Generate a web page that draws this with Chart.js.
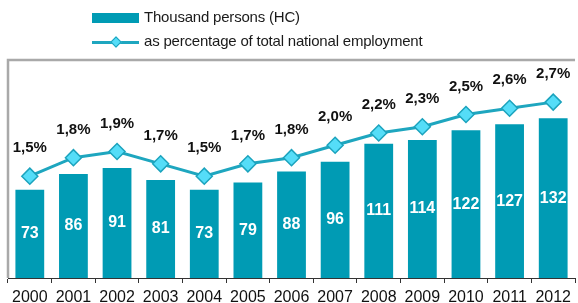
<!DOCTYPE html>
<html lang="en">
<head>
    <meta charset="UTF-8">
    <title>Employment chart</title>
    <script src="https://cdn.jsdelivr.net/npm/chart.js"></script>
    <style>
        body { margin: 0; font-family: "Liberation Sans", Arial, sans-serif; background: #fff; }
        #wrap { position: relative; width: 578px; height: 303px; }
        .legend { position: absolute; left: 92px; font-size: 15px; color: #1a1a1a; letter-spacing: -0.2px; }
        .legend div { position: relative; height: 24px; line-height: 24px; padding-left: 52px; white-space: nowrap; }
        .swatch { position: absolute; left: 0; top: 8px; width: 47px; height: 10px; background: #009bb4; }
        .lineSw { position: absolute; left: 0; top: 12px; width: 47px; height: 3px; background: #1ea6bf; }
        .diamond { position: absolute; left: 20px; top: 9px; width: 6px; height: 6px; background: #55ddf8;
                   border: 1px solid #1ba3bd; transform: rotate(45deg); }
    </style>
</head>
<body>
<div id="wrap">
    <div class="legend" id="legend" style="top:5px"></div>
    <canvas id="myChart" width="578" height="303"></canvas>
</div>
<script>
    // data
    var years = ['2000', '2001', '2002', '2003', '2004', '2005', '2006',
                 '2007', '2008', '2009', '2010', '2011', '2012'];
    var thousands = [73, 86, 91, 81, 73, 79, 88, 96, 111, 114, 122, 127, 132];
    var percents = [1.5, 1.8, 1.9, 1.7, 1.5, 1.7, 1.8, 2.0, 2.2, 2.3, 2.5, 2.6, 2.7];
    var barLabel = 'Thousand persons (HC)';
    var lineLabel = 'as percentage of total national employment';

    // legend in html
    document.getElementById('legend').innerHTML =
        '<div><span class="swatch"></span>' + barLabel + '</div>' +
        '<div><span class="lineSw"></span><span class="diamond"></span>' + lineLabel + '</div>';

    // frame lines + value labels
    var decorPlugin = {
        id: 'decor',
        beforeDraw: function (chart) {
            var c = chart.ctx, a = chart.chartArea;
            c.save();
            c.strokeStyle = '#a9a9a9';
            c.lineWidth = 2.5;
            c.beginPath();
            c.moveTo(a.left, a.bottom);
            c.lineTo(a.left, 60);
            c.lineTo(a.right, 60);
            c.stroke();
            c.restore();
        },
        afterDatasetsDraw: function (chart) {
            var c = chart.ctx;
            c.save();
            c.textAlign = 'center';
            c.textBaseline = 'middle';
            var bars = chart.getDatasetMeta(1).data;
            c.fillStyle = '#ffffff';
            c.font = 'bold 16px "Liberation Sans", Arial, sans-serif';
            bars.forEach(function (b, i) {
                c.fillText(String(thousands[i]), b.x, (b.y + b.base) / 2);
            });
            var pts = chart.getDatasetMeta(0).data;
            c.fillStyle = '#111111';
            c.font = 'bold 15px "Liberation Sans", Arial, sans-serif';
            pts.forEach(function (p, i) {
                c.fillText(percents[i].toFixed(1).replace('.', ',') + '%', p.x, p.y - 28);
            });
            c.restore();
        }
    };

    var ctx = document.getElementById('myChart').getContext('2d');
    var myChart = new Chart(ctx, {
        data: {
            labels: years,
            datasets: [
                {
                    type: 'line',
                    label: lineLabel,
                    data: percents,
                    yAxisID: 'y2',
                    borderColor: '#1ea6bf',
                    borderWidth: 3,
                    pointStyle: 'rectRot',
                    pointRadius: 8,
                    pointBackgroundColor: '#55ddf8',
                    pointBorderColor: '#1ba3bd',
                    pointBorderWidth: 1.5,
                    tension: 0,
                    clip: false
                },
                {
                    type: 'bar',
                    label: barLabel,
                    data: thousands,
                    yAxisID: 'y',
                    backgroundColor: '#009bb4',
                    barPercentage: 0.66,
                    categoryPercentage: 1.0
                }
            ]
        },
        options: {
            responsive: false,
            animation: false,
            layout: { autoPadding: false, padding: { top: 62, left: 8, right: 0, bottom: 0 } },
            plugins: {
                legend: { display: false },
                tooltip: { enabled: false }
            },
            scales: {
                x: {
                    offset: true,
                    afterFit: function (axis) { axis.height = 25; },
                    grid: { display: true, drawOnChartArea: false, offset: true, color: '#333', tickLength: 5 },
                    border: { color: '#333', width: 1 },
                    ticks: {
                        color: '#111',
                        padding: 7,
                        font: { family: '"Liberation Sans", Arial, sans-serif', size: 16, lineHeight: 1 }
                    }
                },
                y: { display: false, min: 0, max: 178.5 },
                y2: { display: false, min: -0.15, max: 3.35 }
            }
        },
        plugins: [decorPlugin]
    });
</script>
</body>
</html>
